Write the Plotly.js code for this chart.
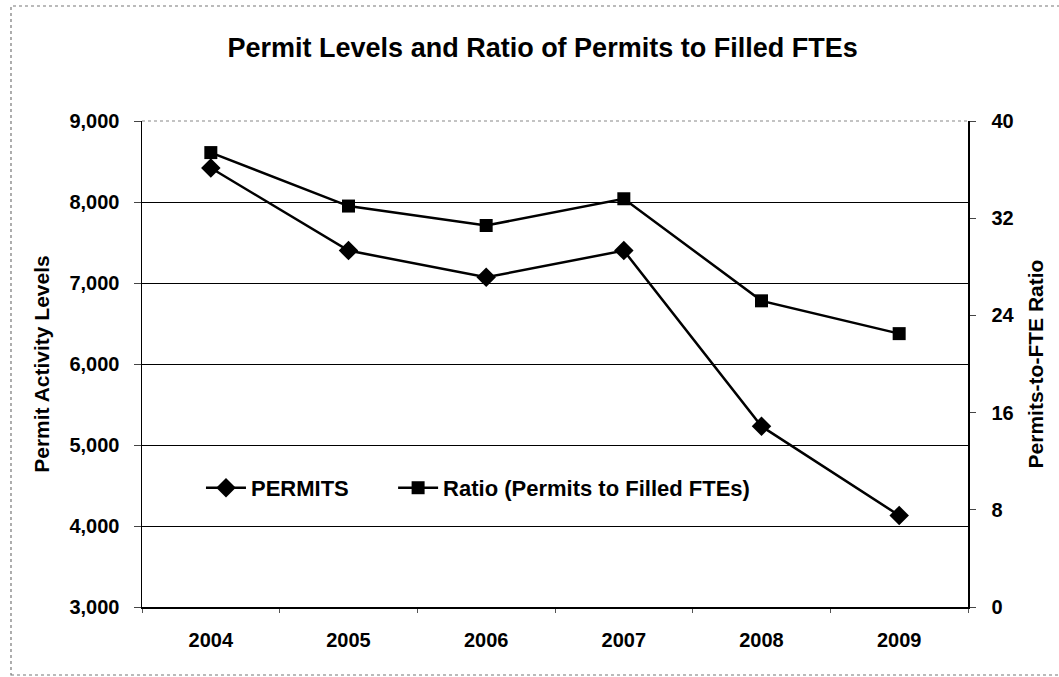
<!DOCTYPE html>
<html>
<head>
<meta charset="utf-8">
<script src="https://cdn.plot.ly/plotly-3.0.1.min.js"></script>
<style>
  html, body { margin: 0; padding: 0; background: #ffffff; }
  #chart { width: 1059px; height: 677px; }
</style>
</head>
<body>
<div id="chart"></div>
<script>
const years = ['2004', '2005', '2006', '2007', '2008', '2009'];
const permits = [8420, 7400, 7070, 7400, 5230, 4130];
const ratio = [37.4, 33.0, 31.4, 33.6, 25.2, 22.5];
const leftTicks = [3000, 4000, 5000, 6000, 7000, 8000, 9000];
const rightTicks = [0, 8, 16, 24, 32, 40];

const FONT = '"Liberation Sans", Arial, sans-serif';

const traces = [
  {
    x: years, y: permits, name: '<b>PERMITS</b>', type: 'scatter', mode: 'lines+markers',
    line: { color: '#000000', width: 2.5 },
    marker: { symbol: 'diamond', size: 15, color: '#000000' },
    yaxis: 'y', legend: 'legend'
  },
  {
    x: years, y: ratio, name: '<b>Ratio (Permits to Filled FTEs)</b>', type: 'scatter', mode: 'lines+markers',
    line: { color: '#000000', width: 2.5 },
    marker: { symbol: 'square', size: 13, color: '#000000' },
    yaxis: 'y2', legend: 'legend2'
  }
];

const legendBase = {
  orientation: 'h',
  xanchor: 'left', y: 0.245, yanchor: 'middle',
  bgcolor: 'rgba(0,0,0,0)',
  font: { family: FONT, size: 22, color: '#000000' },
  itemwidth: 40
};

const layout = {
  width: 1059, height: 677,
  paper_bgcolor: '#ffffff', plot_bgcolor: '#ffffff',
  margin: { l: 142, r: 91, t: 121, b: 70 },
  font: { family: FONT, color: '#000000' },
  title: {
    text: '<b>Permit Levels and Ratio of Permits to Filled FTEs</b>',
    font: { family: FONT, size: 27, color: '#000000' },
    x: 0.485, xref: 'paper', xanchor: 'center',
    y: 0.93, yref: 'container', yanchor: 'middle'
  },
  showlegend: true,
  legend: Object.assign({}, legendBase, { x: 0.0714 }),
  legend2: Object.assign({}, legendBase, { x: 0.304 }),
  xaxis: {
    type: 'category',
    categoryorder: 'array', categoryarray: years,
    range: [-0.5, 5.5],
    showline: true, linecolor: '#000000', linewidth: 1.5,
    showgrid: false,
    ticks: 'outside', ticklen: 4, tickcolor: '#555555',
    tickson: 'boundaries',
    ticklabelstandoff: 14,
    tickfont: { family: FONT, size: 20, color: '#000000' },
    tickprefix: '<b>', ticksuffix: '</b>'
  },
  yaxis: {
    range: [3000, 9000],
    tickvals: leftTicks,
    ticktext: leftTicks.map(v => '<b>' + v.toLocaleString('en-US') + '</b>'),
    showline: true, linecolor: '#000000', linewidth: 1.5,
    showgrid: true, gridcolor: '#000000', gridwidth: 1,
    zeroline: false,
    ticks: 'outside', ticklen: 7, tickcolor: '#444444',
    ticklabelstandoff: 10,
    tickfont: { family: FONT, size: 20, color: '#000000' },
    title: {
      text: '<b>Permit Activity Levels</b>',
      font: { family: FONT, size: 21, color: '#000000' },
      standoff: 14
    }
  },
  yaxis2: {
    overlaying: 'y', side: 'right',
    range: [0, 40],
    tickvals: rightTicks,
    ticktext: rightTicks.map(v => '<b>' + v + '</b>'),
    showline: true, linecolor: '#000000', linewidth: 1.5,
    showgrid: false, zeroline: false,
    ticks: 'outside', ticklen: 6, tickcolor: '#444444',
    ticklabelstandoff: 12,
    tickfont: { family: FONT, size: 20, color: '#000000' },
    title: {
      text: '<b>Permits-to-FTE Ratio</b>',
      font: { family: FONT, size: 21, color: '#000000' },
      standoff: 14
    }
  },
  shapes: [
    {
      type: 'rect', xref: 'paper', yref: 'paper',
      x0: -0.1586, x1: 1.1138, y0: -0.1399, y1: 1.2366,
      line: { color: '#777777', width: 1.2, dash: 'dot' },
      fillcolor: 'rgba(0,0,0,0)', layer: 'below'
    },
    {
      type: 'line', xref: 'paper', yref: 'paper',
      x0: 0.002, x1: 0.998, y0: 1, y1: 1,
      line: { color: '#ffffff', width: 2 }
    },
    {
      type: 'line', xref: 'paper', yref: 'paper',
      x0: 0, x1: 1, y0: 1, y1: 1,
      line: { color: '#888888', width: 1.2, dash: 'dot' }
    }
  ]
};

Plotly.newPlot('chart', traces, layout, { displayModeBar: false, staticPlot: true });
</script>
</body>
</html>
